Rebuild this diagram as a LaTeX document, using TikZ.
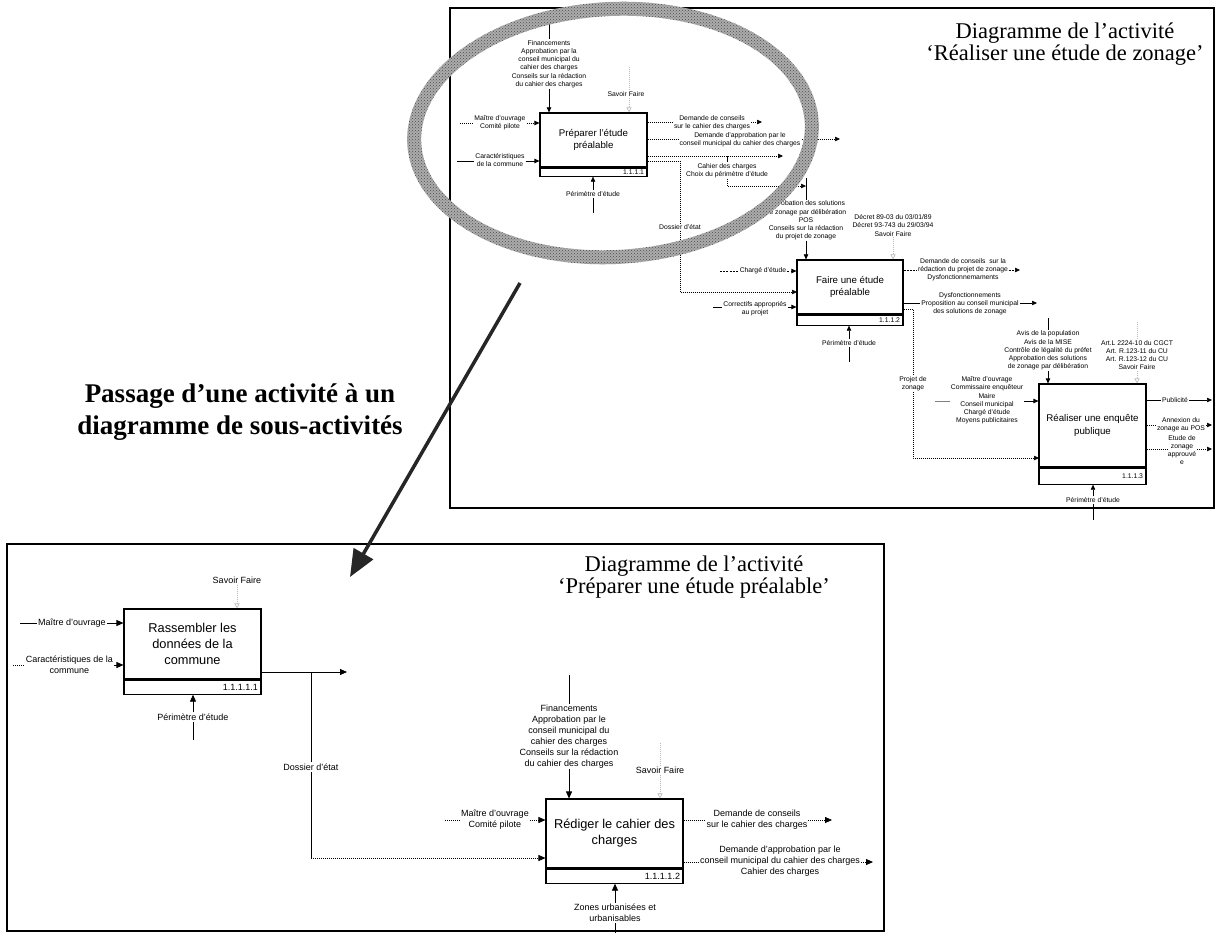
\documentclass[tikz,border=0pt]{standalone}
\usepackage{fontspec}
\setmainfont{Liberation Sans}
\newfontfamily\serifttl{Liberation Serif}
\usetikzlibrary{arrows.meta,positioning,calc,patterns}
\newcommand\tinyf{\fontsize{6.8}{8.2}\selectfont}
\newcommand\labf{\fontsize{9}{11}\selectfont}
\newcommand\actf{\fontsize{9.7}{12.5}\selectfont}
\newcommand\bactf{\fontsize{12.8}{16}\selectfont}
\tikzset{
  act/.style={draw,line width=1.1pt,align=center,inner sep=0pt},
  actid/.style={draw,line width=1.1pt,anchor=north,align=right,inner ysep=0pt,inner xsep=3pt},
  lab/.style={align=center,inner sep=1pt},
  fl/.style={line width=0.6pt},
  arr/.style={fl,-{Triangle[length=5pt,width=4.4pt]}},
  barr/.style={line width=0.75pt,-{Triangle[length=7pt,width=6pt]}},
  dline/.style={dash pattern=on 0.8pt off 1.2pt},
  dashl/.style={dash pattern=on 2pt off 1.2pt},
  mech/.style={draw=gray!55,line width=0.6pt,dash pattern=on 0.8pt off 1.2pt,-{Triangle[open,length=5pt,width=5pt]}},
  mechl/.style={draw=gray!55,line width=0.6pt,dash pattern=on 0.8pt off 1.2pt},
  ttl/.style={align=center,inner sep=0pt,font=\serifttl\fontsize{22.5}{22}\selectfont},
}
\begin{document}
\begin{tikzpicture}[x=1pt,y=-1pt]
\useasboundingbox (0,0) rectangle (1220,933);

% upper diagram: Realiser une etude de zonage
\draw[line width=1.1pt] (450,8) rectangle (1214,508);
\node[ttl] (ttlup) at (1065,44) {Diagramme de l’activité\\‘Réaliser une étude de zonage’};

\node[act,font=\actf,minimum width=107,minimum height=54] (prep) at (593.5,140) {Préparer l'étude\\préalable};
\node[actid,font=\tinyf,text width=101pt,minimum height=8] (prepid) at (prep.south) {1.1.1.1};
\node[act,font=\actf,minimum width=106,minimum height=54] (faire) at (850,287) {Faire une étude\\préalable};
\node[actid,font=\tinyf,text width=100pt,minimum height=10] (faireid) at (faire.south) {1.1.1.2};
\node[act,font=\actf,minimum width=107,minimum height=83] (enq) at (1092.5,425.5) {Réaliser une enquête\\publique};
\node[actid,font=\tinyf,text width=101pt,minimum height=16] (enqid) at (enq.south) {1.1.1.3};

% Preparer l'etude prealable
\node[lab,font=\tinyf] (pctl) at (549,64) {Financements\\Approbation par la\\conseil municipal du\\cahier des charges\\Conseils sur la rédaction\\du cahier des charges};
\coordinate (pctl0) at (549,12);
\draw[fl] (pctl0) -- (pctl);
\draw[arr] (pctl) -- (pctl |- prep.north);
\node[lab,font=\tinyf] (psf) at (626,94) {Savoir Faire};
\coordinate (psf0) at (629,67);
\draw[mechl] (psf0) -- (psf0 |- psf.north);
\draw[mech] (psf0 |- psf.south) -- (psf0 |- prep.north);
\node[lab,font=\tinyf] (pmo) at (500,122.5) {Maître d'ouvrage\\Comité pilote};
\coordinate (pmo0) at (460,123);
\draw[fl,dline] (pmo0) -- (pmo0 -| pmo.west);
\draw[arr,dline] (pmo0 -| pmo.east) -- (pmo0 -| prep.west);
\node[lab,font=\tinyf] (pcar) at (500,160) {Caractéristiques\\de la commune};
\coordinate (pcar0) at (457,161);
\draw[fl] (pcar0) -- (pcar0 -| pcar.west);
\draw[arr] (pcar0 -| pcar.east) -- (pcar0 -| prep.west);
\node[lab,font=\tinyf] (pper) at (593,194) {Périmètre d'étude};
\coordinate (pper0) at (593,213);
\draw[fl] (pper0) -- (pper);
\draw[arr] (pper) -- (pper |- prepid.south);

\node[lab,font=\tinyf] (pdc) at (712,123) {Demande de conseils\\sur le cahier des charges};
\coordinate (pdc0) at (762,122);
\draw[fl,dline] (pdc0 -| prep.east) -- (pdc0 -| pdc.west);
\draw[arr,dline] (pdc0 -| pdc.east) -- (pdc0);
\node[lab,font=\tinyf] (pda) at (740,140) {Demande d'approbation par le\\conseil municipal du cahier des charges};
\coordinate (pda0) at (840,139);
\draw[fl,dline] (pda0 -| prep.east) -- (pda0 -| pda.west);
\draw[arr,dline] (pda0 -| pda.east) -- (pda0);
\coordinate (pcc0) at (783,156);
\draw[arr,dline] (pcc0 -| prep.east) -- (pcc0);
\node[lab,font=\tinyf] (pcc) at (727,170.5) {Cahier des charges\\Choix du périmètre d'étude};
\draw[fl] (pcc0 -| pcc) -- (pcc);
\coordinate (pcc1) at (806,186);
\draw[arr,dline] (pcc) |- (pcc1);
\coordinate (pdos0) at (680,161);
\node[lab,font=\tinyf] (pdos) at (680,227) {Dossier d'état};
\draw[fl,dline] (pdos0 -| prep.east) -- (pdos0) -- (pdos);
\coordinate (fdos) at (797,292);
\draw[arr,dline] (pdos) |- (fdos);

% Faire une etude prealable
\coordinate (fctl0) at (806,178);
\node[lab,font=\tinyf] (fctl) at (806,220.5) {Approbation des solutions\\de zonage par délibération\\POS\\Conseils sur la rédaction\\du projet de zonage};
\draw[fl] (fctl0) -- (fctl);
\draw[arr] (fctl) -- (fctl |- faire.north);
\node[lab,font=\tinyf] (fmec) at (893,225.5) {Décret 89-03 du 03/01/89\\Décret 93-743 du 29/03/94\\Savoir Faire};
\draw[mech] (fmec) -- (fmec |- faire.north);
\node[lab,font=\tinyf] (fch) at (763,271) {Chargé d'étude};
\coordinate (fch0) at (720,271);
\draw[fl,dashl] (fch0) -- (fch);
\draw[arr,dashl] (fch) -- (fch -| faire.west);
\node[lab,font=\tinyf] (fcor) at (755,309) {Correctifs appropriés\\au projet};
\coordinate (fcor0) at (713,307);
\draw[fl] (fcor0) -- (fcor0 -| fcor.west);
\draw[arr] (fcor0 -| fcor.east) -- (fcor0 -| faire.west);
\node[lab,font=\tinyf] (fper) at (849,343) {Périmètre d'étude};
\coordinate (fper0) at (849,362);
\draw[fl] (fper0) -- (fper);
\draw[arr] (fper) -- (fper |- faireid.south);

\node[lab,font=\tinyf] (fdc) at (963,270) {Demande de conseils\ \ sur la\\rédaction du projet de zonage\\Dysfonctionnemaments};
\coordinate (fdc0) at (1020,270);
\draw[fl,dashl] (fdc0 -| faire.east) -- (fdc0 -| fdc.west);
\draw[arr,dashl] (fdc0 -| fdc.east) -- (fdc0);
\node[lab,font=\tinyf] (fpr) at (970,303.5) {Dysfonctionnements\\Proposition au conseil municipal\\des solutions de zonage};
\coordinate (fpr0) at (1037,303);
\draw[fl] (fpr0 -| faire.east) -- (fpr0 -| fpr.west);
\draw[arr] (fpr0 -| fpr.east) -- (fpr0);
\coordinate (fpz0) at (913,309);
\node[lab,font=\tinyf] (fpz) at (913,383.5) {Projet de\\zonage};
\draw[fl,dline] (fpz0 -| faire.east) -- (fpz0) -- (fpz);
\coordinate (epz) at (1039,458);
\draw[arr,dline] (fpz) |- (epz);

% Realiser une enquete publique
\node[lab,font=\tinyf] (ectl) at (1048,350.5) {Avis de la population\\Avis de la MISE\\Contrôle de légalité du préfet\\Approbation des solutions\\de zonage par délibération};
\coordinate (ectl0) at (1048,318);
\draw[fl] (ectl0) -- (ectl);
\draw[arr] (ectl) -- (ectl |- enq.north);
\node[lab,font=\tinyf] (emec) at (1137,355) {Art.L 2224-10 du CGCT\\Art. R.123-11 du CU\\Art. R.123-12 du CU\\Savoir Faire};
\coordinate (emec0) at (1137,322);
\draw[mechl] (emec0) -- (emec);
\draw[mech] (emec) -- (emec |- enq.north);
\node[lab,font=\tinyf] (emo) at (987,400.5) {Maître d'ouvrage\\Commissaire enquêteur\\Maire\\Conseil municipal\\Chargé d'étude\\Moyens publicitaires};
\coordinate (emo0) at (935,401);
\draw[fl,gray] (emo0) -- (emo0 -| emo.west);
\draw[arr] (emo0 -| emo.east) -- (emo0 -| enq.west);
\node[lab,font=\tinyf] (eper) at (1093,500) {Périmètre d'étude};
\coordinate (eper0) at (1093,520);
\draw[fl] (eper0) -- (eper);
\draw[arr] (eper) -- (eper |- enqid.south);

\node[lab,font=\tinyf] (epub) at (1175,400) {Publicité};
\coordinate (epub0) at (1212,400);
\draw[fl] (epub0 -| enq.east) -- (epub);
\draw[arr] (epub) -- (epub0);
\node[lab,font=\tinyf] (eann) at (1181,425) {Annexion du\\zonage au POS};
\coordinate (eann0) at (1212,425);
\draw[fl,dline] (eann0 -| enq.east) -- (eann0 -| eann.west);
\draw[arr,dline] (eann0 -| eann.east) -- (eann0);
\node[lab,font=\tinyf] (eetu) at (1182,450) {Etude de\\zonage\\approuvé\\e};
\coordinate (eetu0) at (1212,449);
\draw[fl,dline] (eetu0 -| enq.east) -- (eetu0 -| eetu.west);
\draw[arr,dline] (eetu0 -| eetu.east) -- (eetu0);

% lower diagram: Preparer une etude prealable
\draw[line width=1.1pt] (7,544) rectangle (884,931);
\node[ttl] (ttllo) at (694,577) {Diagramme de l’activité\\‘Préparer une étude préalable’};

\node[act,font=\bactf,minimum width=137,minimum height=70] (ras) at (192.5,644) {Rassembler les\\données de la\\commune};
\node[actid,font=\labf,text width=131pt,minimum height=14] (rasid) at (ras.south) {1.1.1.1.1};
\node[act,font=\bactf,minimum width=137,minimum height=69] (red) at (614.5,833.5) {Rédiger le cahier des\\charges};
\node[actid,font=\labf,text width=131pt,minimum height=14] (redid) at (red.south) {1.1.1.1.2};

\node[lab,font=\labf] (rsf) at (237,580) {Savoir Faire};
\draw[mech] (rsf) -- (rsf |- ras.north);
\node[lab,font=\labf] (rmo) at (72,623) {Maître d'ouvrage};
\coordinate (rmo0) at (20,623);
\draw[fl] (rmo0) -- (rmo);
\draw[barr] (rmo) -- (rmo -| ras.west);
\node[lab,font=\labf] (rcar) at (69.5,665) {Caractéristiques de la\\commune};
\coordinate (rcar0) at (13,665);
\draw[fl,dline] (rcar0) -- (rcar0 -| rcar.west);
\draw[barr] (rcar0 -| rcar.east) -- (rcar0 -| ras.west);
\node[lab,font=\labf] (rper) at (193,717) {Périmètre d'étude};
\coordinate (rper0) at (193,740);
\draw[fl] (rper0) -- (rper);
\draw[barr] (rper) -- (rper |- rasid.south);

\coordinate (rout) at (347,672);
\draw[barr] (rout -| ras.east) -- (rout);
\node[lab,font=\labf] (rdos) at (311,767) {Dossier d'état};
\draw[fl] (rout -| rdos) -- (rdos);
\coordinate (rdos1) at (311,858);
\draw[fl] (rdos) -- (rdos1);
\draw[barr,dline] (rdos1) -- (rdos1 -| red.west);

\node[lab,font=\labf] (rctl) at (569,736.5) {Financements\\Approbation par le\\conseil municipal du\\cahier des charges\\Conseils sur la rédaction\\du cahier des charges};
\coordinate (rctl0) at (569,675);
\draw[fl] (rctl0) -- (rctl);
\draw[barr] (rctl) -- (rctl |- red.north);
\node[lab,font=\labf] (rsf2) at (660,770) {Savoir Faire};
\coordinate (rsf20) at (660,743);
\draw[mechl] (rsf20) -- (rsf2);
\draw[mech] (rsf2) -- (rsf2 |- red.north);
\node[lab,font=\labf] (rmo2) at (495,820) {Maître d'ouvrage\\Comité pilote};
\coordinate (rmo20) at (445,820);
\draw[fl,dline] (rmo20) -- (rmo20 -| rmo2.west);
\draw[barr,dline] (rmo20 -| rmo2.east) -- (rmo20 -| red.west);
\node[lab,font=\labf] (rzon) at (615,913) {Zones urbanisées et\\urbanisables};
\coordinate (rzon0) at (615,933);
\draw[fl] (rzon0) -- (rzon);
\draw[barr] (rzon) -- (rzon |- redid.south);

\node[lab,font=\labf] (rdc) at (757,820) {Demande de conseils\\sur le cahier des charges};
\coordinate (rdc0) at (832,820);
\draw[fl,dline] (rdc0 -| red.east) -- (rdc0 -| rdc.west);
\draw[barr,dline] (rdc0 -| rdc.east) -- (rdc0);
\node[lab,font=\labf] (rda) at (780,861.5) {Demande d'approbation par le\\conseil municipal du cahier des charges\\Cahier des charges};
\coordinate (rda0) at (873,862);
\draw[fl,dline] (rda0 -| red.east) -- (rda0 -| rda.west);
\draw[barr,dline] (rda0 -| rda.east) -- (rda0);

% passage
\node[align=center,inner sep=0pt,font=\serifttl\bfseries\fontsize{27}{32}\selectfont] (pass) at (240,412) {Passage d’une activité à un\\diagramme de sous-activités};
\coordinate (bigs) at (520,283);
\coordinate (bige) at (350,577);
\draw[line width=3.5pt,black!85,-{Triangle[length=27pt,width=22pt]}] (bigs) -- (bige);

% hatched ring round the zoomed activity
\begin{scope}[shift={(613,133)},rotate=3]
\fill[gray!65,even odd rule] (0,0) ellipse [x radius=206,y radius=131] (0,0) ellipse [x radius=192,y radius=117];
\fill[pattern=crosshatch dots,pattern color=black!70,even odd rule] (0,0) ellipse [x radius=206,y radius=131] (0,0) ellipse [x radius=192,y radius=117];
\end{scope}
\end{tikzpicture}
\end{document}
